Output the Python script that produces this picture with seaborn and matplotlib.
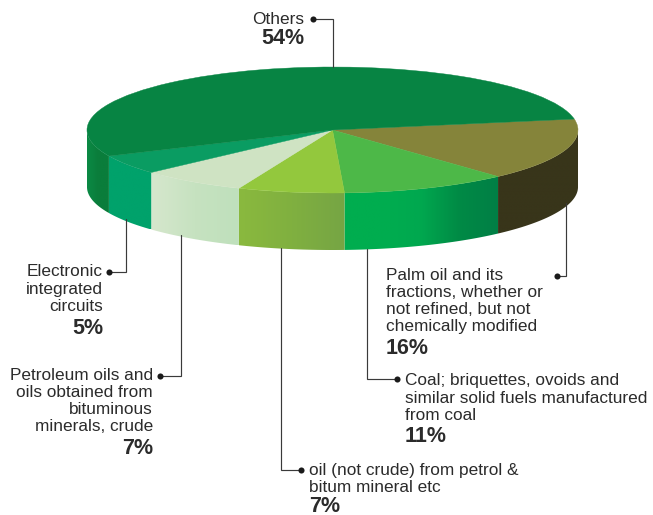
import numpy as np
import matplotlib
matplotlib.use("Agg")
import matplotlib.pyplot as plt
from matplotlib.colors import LinearSegmentedColormap
import seaborn as sns

# --- data ---
shares = [16, 11, 7, 7, 5, 54]
names = [
    ["Palm oil and its", "fractions, whether or", "not refined, but not", "chemically modified"],
    ["Coal; briquettes, ovoids and", "similar solid fuels manufactured", "from coal"],
    ["oil (not crude) from petrol &", "bitum mineral etc"],
    ["Petroleum oils and", "oils obtained from", "bituminous", "minerals, crude"],
    ["Electronic", "integrated", "circuits"],
    ["Others"],
]
top_colors = ["#85843a", "#4db848", "#93c83d", "#cfe3c3", "#0a9c62", "#078443"]
# wall shading, left to right across each slice
wall_ramps = [
    ["#38351a", "#38351a"],
    ["#00ad4f", "#00ad4f", "#00a84f", "#008a45", "#007f45"],
    ["#8ab93e", "#80b040", "#76a544"],
    ["#d6e7cd", "#c6e2c0", "#bfe0bc"],
    ["#00a26b", "#00a26b"],
    ["#0b8a45", "#0a7d3b", "#0a7d3b"],
]

# --- layout (pixels of the 653x515 canvas) ---
W, H = 653, 515
LEFT, RIGHT, TOP, BOTTOM = 87, 578, 67, 250
SURFACE_RY = 63
START_ANGLE = 10
# text x, align, first-line centre y, percent centre y, leader path
layout = [
    (386, "left", 275, 349, [(557, 276), (566, 276), (566, 203)]),
    (405, "left", 381, 436, [(397, 379), (367, 379), (367, 249)]),
    (309, "left", 470, 506, [(301, 470), (281, 470), (281, 248)]),
    (153, "right", 375, 449, [(160, 376), (181, 376), (181, 235)]),
    (103, "right", 272, 328, [(109, 272), (126, 272), (126, 219)]),
    (304, "right", 19, 39, [(313, 19), (333, 19), (333, 67)]),
]
LINE_PITCH = 17.3
TEXT = "#2b2b2b"

sns.set_theme(style="white")
plt.rcParams["font.family"] = ["Liberation Sans", "DejaVu Sans"]

fig = plt.figure(figsize=(W / 100, H / 100), dpi=100)

# pie axes: unit circle squashed into the tilted ellipse
ax = fig.add_axes([LEFT / W, (H - BOTTOM) / H, (RIGHT - LEFT) / W, (BOTTOM - TOP) / H])
wall = (BOTTOM - TOP - 2 * SURFACE_RY) / SURFACE_RY

edges = START_ANGLE - np.cumsum([0] + shares) * 3.6
for a0, a1, ramp in zip(edges[:-1], edges[1:], wall_ramps):
    lo, hi = max(a1, -180), min(a0, 0)
    if lo >= hi:
        continue
    t = np.radians(np.linspace(lo, hi, 80))
    x, y = np.cos(t), np.sin(t)
    outline = np.vstack([np.c_[x, y], np.c_[x, y - wall][::-1]])
    poly = plt.Polygon(outline, closed=True, fc="none", ec="none", transform=ax.transData)
    ax.add_patch(poly)
    cmap = LinearSegmentedColormap.from_list("wall", sns.blend_palette(ramp, 64))
    im = ax.imshow(np.linspace(0, 1, 256)[None, :], cmap=cmap, aspect="auto",
                   extent=(x.min(), x.max(), (y - wall).min(), y.max()), zorder=1,
                   interpolation="bilinear")
    im.set_clip_path(poly)

wedges, _ = ax.pie(shares, startangle=START_ANGLE, counterclock=False,
                   colors=top_colors, radius=1, wedgeprops=dict(lw=0.3, zorder=2))
for (w, c) in zip(wedges, top_colors):
    w.set_edgecolor(c)
    w.set_clip_on(False)
ax.set_aspect("auto")
ax.set_xlim(-1, 1)
ax.set_ylim(-1 - wall, 1)
ax.axis("off")

# overlay axes in canvas pixels for leaders and labels
ov = fig.add_axes([0, 0, 1, 1], facecolor="none")
ov.set_xlim(0, W)
ov.set_ylim(H, 0)
ov.axis("off")

for share, lines, (tx, ha, y0, yp, path) in zip(shares, names, layout):
    for i, line in enumerate(lines):
        ov.text(tx, y0 + i * LINE_PITCH, line, ha=ha, va="center",
                fontsize=12.4, color=TEXT)
    ov.text(tx, yp, f"{share}%", ha=ha, va="center", fontsize=15.5,
            fontweight="bold", color=TEXT)
    xs, ys = zip(*path)
    ov.plot(xs, ys, color="#3a3a3a", lw=0.85, solid_joinstyle="miter")
    ov.plot(xs[0], ys[0], "o", color="#1a1a1a", ms=4.4, mew=0)

fig.savefig("out.png", dpi=100, facecolor="white")
